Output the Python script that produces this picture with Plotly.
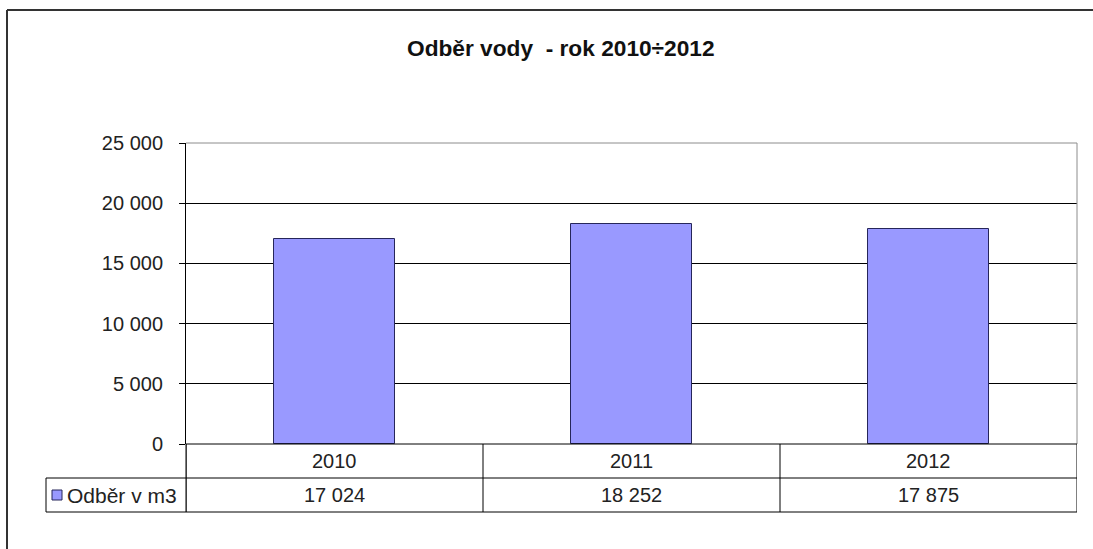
import plotly.graph_objects as go

# Water consumption by year
years = ["2010", "2011", "2012"]
consumption = [17024, 18252, 17875]
series_name = "Odběr v m3"
title_text = "Odběr vody  - rok 2010÷2012"
y_ticks = [0, 5000, 10000, 15000, 20000, 25000]

W, H = 1093, 549
FONT = "Liberation Sans, Arial, sans-serif"
TEXT = "#222222"
BAR = "#9999FF"
BAR_EDGE = "#26265A"

# plot area in pixels
PL, PR, PT, PB = 186, 1077, 143, 444
ROW1, ROW2 = 478, 512   # data-table row boundaries
LEG_L = 46              # left edge of legend cell


def px(x):
    return x / W


def py(y):
    return 1 - y / H


def fmt(v):
    return f"{v:,}".replace(",", " ")


fig = go.Figure(
    go.Bar(
        x=list(range(len(years))),
        y=consumption,
        name=series_name,
        width=0.405,
        marker=dict(color=BAR, line=dict(color=BAR_EDGE, width=1)),
        showlegend=False,
    )
)

shapes = []


def line(x0, y0, x1, y1, color="#000000", width=1, xref="paper", yref="paper"):
    shapes.append(dict(type="line", x0=x0, y0=y0, x1=x1, y1=y1, xref=xref, yref=yref,
                       line=dict(color=color, width=width), layer="above"))


# outer chart frame (left and top edges)
line(px(7), py(10), px(7), py(560), color="#333333", width=2)
line(px(7), py(10), px(1100), py(10), color="#333333", width=2)

# plot-area border: top and right in grey
line(px(PL), py(PT), px(PR), py(PT), color="#8C8C8C")
line(px(PR), py(PT), px(PR), py(PB), color="#8C8C8C")

# data table horizontal rules
line(px(PL), py(PB), px(PR), py(PB))
line(px(LEG_L), py(ROW1), px(PR), py(ROW1))
line(px(LEG_L), py(ROW2), px(PR), py(ROW2))
line(px(LEG_L), py(ROW1), px(LEG_L), py(ROW2))
line(px(PL), py(PB), px(PL), py(ROW2))

# data table vertical rules at category boundaries
for i in range(len(years) + 1):
    line(i - 0.5, py(PB), i - 0.5, py(ROW2), xref="x", yref="paper")

# legend key swatch
shapes.append(dict(type="rect", xref="paper", yref="paper",
                   x0=px(52), x1=px(62), y0=py(490), y1=py(500),
                   fillcolor=BAR, line=dict(color=BAR_EDGE, width=1), layer="above"))

annotations = [
    dict(text=f"<b>{title_text}</b>", x=px(561), y=py(48), xref="paper", yref="paper",
         showarrow=False, xanchor="center", yanchor="middle",
         font=dict(family=FONT, size=22.7, color="#111111")),
    dict(text=series_name, x=px(65), y=py((ROW1 + ROW2) / 2), xref="paper", yref="paper",
         showarrow=False, xanchor="left", yanchor="middle",
         font=dict(family=FONT, size=21, color=TEXT)),
]
for i, (yr, v) in enumerate(zip(years, consumption)):
    annotations.append(dict(text=yr, x=i, y=py((PB + ROW1) / 2), xref="x", yref="paper",
                            showarrow=False, xanchor="center", yanchor="middle",
                            font=dict(family=FONT, size=20, color=TEXT)))
    annotations.append(dict(text=fmt(v), x=i, y=py((ROW1 + ROW2) / 2), xref="x", yref="paper",
                            showarrow=False, xanchor="center", yanchor="middle",
                            font=dict(family=FONT, size=20, color=TEXT)))

fig.update_layout(
    width=W, height=H, autosize=False,
    margin=dict(l=0, r=0, t=0, b=0, autoexpand=False),
    paper_bgcolor="white", plot_bgcolor="white",
    xaxis=dict(domain=[px(PL), px(PR)], range=[-0.5, 2.5], automargin=False,
               showticklabels=False, ticks="", showgrid=False, zeroline=False,
               showline=False),
    yaxis=dict(domain=[py(PB), py(PT)], range=[0, 25000], tickvals=y_ticks,
               ticktext=[fmt(t) for t in y_ticks], automargin=False,
               ticks="outside", ticklen=6, tickcolor="#000000", tickwidth=1,
               ticklabelstandoff=12,
               showgrid=True, gridcolor="#000000", gridwidth=1,
               zeroline=False, showline=True, linecolor="#000000", linewidth=1,
               tickfont=dict(family=FONT, size=20, color=TEXT)),
    shapes=shapes,
    annotations=annotations,
    bargap=0,
)

fig.write_html("out.html")
